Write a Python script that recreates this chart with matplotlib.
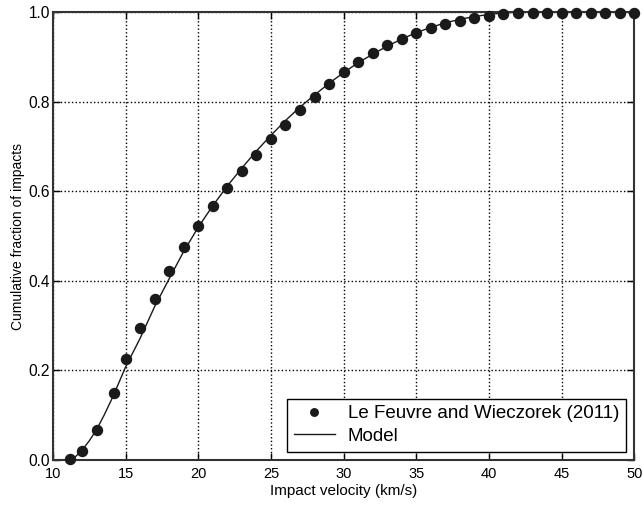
import matplotlib
matplotlib.use("Agg")
import matplotlib.pyplot as plt

# Le Feuvre and Wieczorek (2011) points
obs_velocity = [11.2, 12, 13, 14.2, 15, 16, 17, 18, 19, 20,
                21, 22, 23, 24, 25, 26, 27, 28, 29, 30,
                31, 32, 33, 34, 35, 36, 37, 38, 39, 40,
                41, 42, 43, 44, 45, 46, 47, 48, 49, 50]
obs_fraction = [0.002, 0.021, 0.068, 0.149, 0.226, 0.295, 0.360, 0.421, 0.475, 0.522,
                0.567, 0.607, 0.645, 0.681, 0.716, 0.749, 0.781, 0.811, 0.839, 0.867,
                0.888, 0.909, 0.926, 0.941, 0.954, 0.964, 0.973, 0.981, 0.986, 0.991,
                0.995, 0.997, 0.998, 0.998, 0.998, 0.998, 0.998, 0.998, 0.998, 0.998]

# Model curve
model_velocity = [11, 11.5, 12, 12.5, 13, 13.5, 14, 14.5, 15, 16, 17, 18, 19, 20,
                  21, 22, 23, 24, 25, 26, 27, 28, 29, 30, 31, 32, 33, 34, 35,
                  36, 37, 38, 39, 40, 41, 42, 50]
model_fraction = [0.0, 0.006, 0.022, 0.043, 0.068, 0.099, 0.133, 0.170, 0.208, 0.272,
                  0.343, 0.405, 0.466, 0.520, 0.568, 0.612, 0.652, 0.690, 0.725, 0.758,
                  0.788, 0.815, 0.841, 0.865, 0.887, 0.906, 0.924, 0.940, 0.954,
                  0.966, 0.976, 0.984, 0.990, 0.995, 0.998, 1.0, 1.0]

plt.rcParams['font.family'] = ['Liberation Sans', 'DejaVu Sans']

fig = plt.figure(figsize=(6.43, 5.05), dpi=100)
ax = fig.add_axes([0.0824, 0.089, 0.904, 0.887])

ax.plot(obs_velocity, obs_fraction, 'o', color='#1a1a1a', markersize=7.2,
        label='Le Feuvre and Wieczorek (2011)', clip_on=False, zorder=3)
ax.plot(model_velocity, model_fraction, '-', color='#1a1a1a', linewidth=1.0,
        label='Model', zorder=2)

ax.set_xlim(10, 50)
ax.set_ylim(0, 1.0)
ax.set_xticks([10, 15, 20, 25, 30, 35, 40, 45, 50])
ax.set_yticks([0.0, 0.2, 0.4, 0.6, 0.8, 1.0])
ax.set_yticklabels(['0.0', '0.2', '0.4', '0.6', '0.8', '1.0'])
ax.tick_params(direction='in', top=True, right=True, length=5, width=1)
ax.tick_params(axis='x', labelsize=10.5, pad=5)
ax.tick_params(axis='y', labelsize=11.2, pad=2)
ax.grid(True, linestyle=':', color='black', linewidth=1.0)
for sp in ax.spines.values():
    sp.set_linewidth(1.5)
    sp.set_color('#333333')

ax.set_xlabel('Impact velocity (km/s)', fontsize=11, labelpad=2)
ax.set_ylabel('Cumulative fraction of impacts', fontsize=10, labelpad=3)

leg = ax.legend(loc='lower right', fontsize=13.5, fancybox=False, framealpha=1,
                edgecolor='black', borderaxespad=0.45, handlelength=2.2,
                markerscale=0.75, labelspacing=0.3, borderpad=0.35,
                handletextpad=0.7)
leg.get_frame().set_linewidth(1.0)

fig.savefig('out.png', dpi=100)
